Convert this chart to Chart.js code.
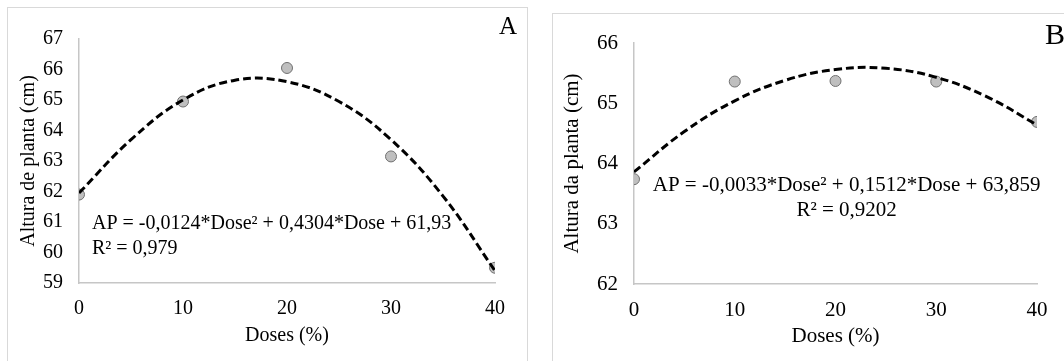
<!DOCTYPE html>
<html>
<head>
<meta charset="utf-8">
<script src="https://cdn.jsdelivr.net/npm/chart.js@4.4.1/dist/chart.umd.min.js"></script>
<style>
  html, body { margin: 0; padding: 0; background: #fff; }
  body { width: 1064px; height: 361px; position: relative; overflow: hidden; font-family: 'Liberation Serif', serif; }
  .panel { position: absolute; border: 1px solid #d9d9d9; background: #fff; }
  #pA { left: 7px; top: 7px; width: 519px; height: 400px; }
  #pB { left: 552px; top: 13px; width: 560px; height: 400px; }
  .lbl { position: absolute; font-family: 'Liberation Serif', serif; color: #000; line-height: normal; }
  #lA { left: 499px; top: 12px; font-size: 25px; }
  #lB { left: 1045px; top: 17px; font-size: 30px; }
  canvas { position: absolute; }
</style>
</head>
<body>
<div class="panel" id="pA"></div>
<div class="panel" id="pB"></div>
<div style="position:absolute;left:8px;top:8px;width:518px;height:353px;"><canvas id="cA"></canvas></div>
<div style="position:absolute;left:553px;top:14px;width:511px;height:347px;"><canvas id="cB"></canvas></div>
<div class="lbl" id="lA">A</div>
<div class="lbl" id="lB">B</div>
<script>
// ---- Data ----
const doses = [0, 10, 20, 30, 40];
const trendDoses = [0, 5, 10, 15, 20, 25, 30, 35, 40];

const alturaA = [61.9, 64.95, 66.05, 63.15, 59.5];
const trendA = [61.95, 63.7, 65.0, 65.65, 65.6, 64.95, 63.7, 61.85, 59.4];
const eqA = ['AP = -0,0124*Dose\u00B2 + 0,4304*Dose + 61,93', 'R\u00B2 = 0,979'];
const eqAnchorA = [1.25, 60.95];

const alturaB = [63.74, 65.36, 65.37, 65.36, 64.69];
const trendB = [63.86, 64.53, 65.04, 65.38, 65.56, 65.58, 65.43, 65.11, 64.64];
const eqB = ['AP = -0,0033*Dose\u00B2 + 0,1512*Dose + 63,859', 'R\u00B2 = 0,9202'];
const eqAnchorB = [21.1, 63.64];

const xTitle = 'Doses (%)';
const yTitleA = 'Altura de planta (cm)';
const yTitleB = 'Altura da planta (cm)';
const yRangeA = [59, 67];
const yRangeB = [62, 66];
const xRange = [0, 40];

const toXY = (xs, ys) => xs.map((x, i) => ({ x: x, y: ys[i] }));

const eqPlugin = {
  id: 'eqText',
  afterDatasetsDraw(chart, args, opts) {
    const { ctx, scales } = chart;
    const px = scales.x.getPixelForValue(opts.anchor[0]);
    const py = scales.y.getPixelForValue(opts.anchor[1]);
    ctx.save();
    ctx.font = opts.size + 'px "Liberation Serif"';
    ctx.fillStyle = '#000';
    ctx.textAlign = opts.align;
    ctx.textBaseline = 'middle';
    opts.lines.forEach((t, i) => ctx.fillText(t, px, py + i * opts.gap));
    ctx.restore();
  }
};

function makeChart(id, pts, trend, yRange, yTitle, eq, anchor, cfg) {
  const font = { family: 'Liberation Serif', size: cfg.font };
  return new Chart(document.getElementById(id), {
    type: 'scatter',
    data: {
      datasets: [
        {
          data: toXY(trendDoses, trend),
          showLine: true,
          borderColor: '#000',
          borderWidth: 3,
          borderDash: [8, 4],
          pointRadius: 0,
          tension: 0.4,
          fill: false
        },
        {
          data: toXY(doses, pts),
          pointRadius: 5.5,
          pointBackgroundColor: '#bfbfbf',
          pointBorderColor: '#707070',
          pointBorderWidth: 1,
          showLine: false
        }
      ]
    },
    options: {
      responsive: true,
      maintainAspectRatio: false,
      animation: false,
      events: [],
      layout: { padding: { top: cfg.top, right: cfg.right, bottom: cfg.bottom, left: 0 } },
      plugins: {
        legend: { display: false },
        tooltip: { enabled: false },
        eqText: { lines: eq, anchor: anchor, align: cfg.align, size: cfg.font, gap: 25 }
      },
      scales: {
        x: {
          type: 'linear', min: xRange[0], max: xRange[1],
          grid: { display: false, drawTicks: false },
          border: { display: true, color: '#c6c6c6', width: 1.5 },
          ticks: { stepSize: 10, color: '#000', font: font, padding: cfg.xpad, maxRotation: 0 },
          title: { display: true, text: xTitle, color: '#000', font: font, padding: { top: 0, bottom: 0 } },
          afterFit(s) { s.height = cfg.xh; }
        },
        y: {
          type: 'linear', min: yRange[0], max: yRange[1],
          grid: { display: false, drawTicks: false },
          border: { display: true, color: '#c6c6c6', width: 1.5 },
          ticks: { stepSize: 1, color: '#000', font: font, padding: 16 },
          title: { display: true, text: yTitle, color: '#000', font: font, padding: { top: cfg.ytp, bottom: 0 } },
          afterFit(s) { s.width = cfg.yw; }
        }
      }
    },
    plugins: [eqPlugin]
  });
}

makeChart('cA', alturaA, trendA, yRangeA, yTitleA, eqA, eqAnchorA,
  { font: 20, top: 31, right: 31, bottom: 13, xh: 65, yw: 71, xpad: 14, ytp: 9, align: 'left' });
makeChart('cB', alturaB, trendB, yRangeB, yTitleB, eqB, eqAnchorB,
  { font: 21, top: 29, right: 27, bottom: 12, xh: 65, yw: 81, xpad: 14, ytp: 7, align: 'center' });
</script>
</body>
</html>
